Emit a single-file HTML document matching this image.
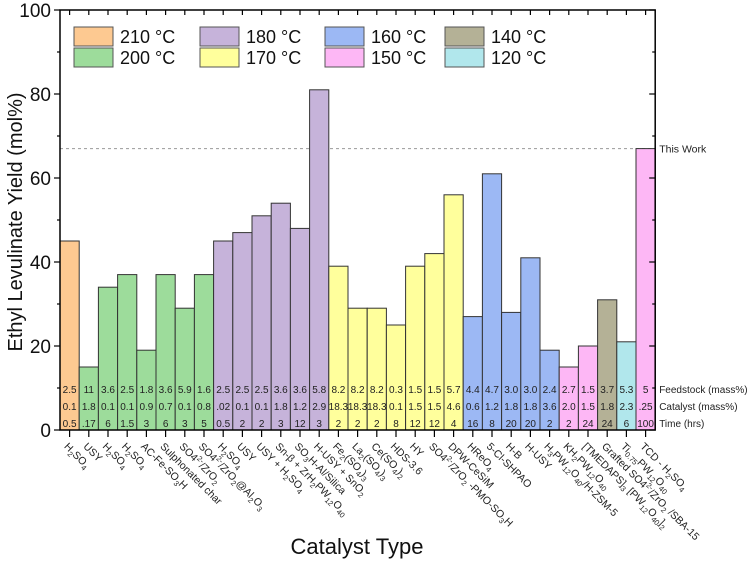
<!DOCTYPE html>
<html><head><meta charset="utf-8"><style>
body{margin:0;background:#fff;font-family:"Liberation Sans",Arial,sans-serif}
svg text{font-family:"Liberation Sans",Arial,sans-serif}
</style></head><body>
<svg id="chart" width="750" height="560" viewBox="0 0 750 560" xmlns="http://www.w3.org/2000/svg"></svg>
<script>
const categories=["H2SO4","USY","H2SO4","H2SO4","AC-Fe-SO3H","Sulphonated char","SO4^2-/ZrO2","SO4^2-/ZrO2@Al2O3","H2SO4","USY","USY + H2SO4","Sn-β + ZrH2PW12O40","SO3H-Al/Silica","H-USY + SnO2","Fe2(SO4)3","La2(SO4)3","Ce(SO4)2","HDS-3.6","HY","SO4^2-/ZrO2 -PMO-SO3H","DPW-CeSiM","HReO4","5-Cl-SHPAO","H-B","H-USY","H3PW12O40/H-ZSM-5","KH2PW12O40","[TMEDAPS]3 [PW12O40]2","Grafted SO4^2-/ZrO2 /SBA-15","Ti0.75PW12O40","TCD - H2SO4"];
const yields=[45,15,34,37,19,37,29,37,45,47,51,54,48,81,39,29,29,25,39,42,56,27,61,28,41,19,15,20,31,21,67];
const temps=[210,200,200,200,200,200,200,200,180,180,180,180,180,180,170,170,170,170,170,170,170,160,160,160,160,160,150,150,140,120,150];
const feedstock=["2.5","11","3.6","2.5","1.8","3.6","5.9","1.6","2.5","2.5","2.5","3.6","3.6","5.8","8.2","8.2","8.2","0.3","1.5","1.5","5.7","4.4","4.7","3.0","3.0","2.4","2.7","1.5","3.7","5.3","5"];
const catalyst=["0.1","1.8","0.1","0.1","0.9","0.7","0.1","0.8",".02","0.1","0.1","1.8","1.2","2.9","18.3","18.3","18.3","0.1","1.5","1.5","4.6","0.6","1.2","1.8","1.8","3.6","2.0","1.5","1.8","2.3",".25"];
const times=["0.5",".17","6","1.5","3","6","3","5","0.5","2","2","3","12","3","2","2","2","8","12","12","4","16","8","20","20","2","2","24","24","6","100"];
const legendTemps=[210,180,160,140,200,170,150,120];
const yTicks=[0,20,40,60,80,100];
const thisWork=67;
const colors={210:"#fdc991",200:"#9ddc9b",180:"#c6b3da",170:"#ffff9c",160:"#9cb8f4",150:"#fdb7f5",140:"#b4b196",120:"#b1e7ec"};

const NS="http://www.w3.org/2000/svg";
const svg=document.getElementById('chart');
const X0=60,BW=19.2,YT=10,YB=430;
const x=i=>X0+i*BW;
const y=v=>YB-(v/100)*(YB-YT);
const X1=x(categories.length);
function el(tag,attrs,parent){const e=document.createElementNS(NS,tag);for(const k in attrs)e.setAttribute(k,attrs[k]);(parent||svg).appendChild(e);return e;}

function formula(t,label){
  const re=/(\^[0-9]+[+-])|((?<=[A-Za-z\)\]])[0-9.]+(?=[A-Z\(\)\[\]\/ @]|$))/g;
  let last=0,m;
  const add=(s,kind)=>{if(!s)return;const ts=el('tspan',{},label);
    if(kind==='sub'){ts.setAttribute('font-size','7.5');ts.setAttribute('dy','3');}
    else if(kind==='sup'){ts.setAttribute('font-size','7.5');ts.setAttribute('dy','-4');}
    ts.textContent=s;
    if(kind){const back=el('tspan',{dy:kind==='sub'?'-3':'4'},label);back.textContent='\u200b';}
  };
  while((m=re.exec(t))){
    add(t.slice(last,m.index),null);
    if(m[1])add(m[1].slice(1),'sup');else add(m[2],'sub');
    last=m.index+m[0].length;
  }
  add(t.slice(last),null);
}

const dl=el('line',{x1:X0,x2:X1,y1:y(thisWork),y2:y(thisWork),stroke:'#999','stroke-dasharray':'3,3','stroke-width':1});


const tw=el('text',{x:X1+4,y:y(thisWork)+4,'font-size':10.5,fill:'#222'});tw.textContent='This Work';



yields.forEach((v,i)=>{
  const r=el('rect',{x:x(i),y:y(v),width:BW,height:YB-y(v),fill:colors[temps[i]],stroke:'#333','stroke-width':1});
  
  
});
[[feedstock,389,'Feedstock (mass%)'],[catalyst,406,'Catalyst (mass%)'],[times,423,'Time (hrs)']].forEach(([arr,yy,lab])=>{
  arr.forEach((t,i)=>{
    const tx=el('text',{x:x(i)+BW/2,y:yy+4,'font-size':10,'text-anchor':'middle',fill:'#222'});tx.textContent=t;
    
    
  });
  const lt=el('text',{x:X1+4,y:yy+4,'font-size':10,fill:'#222'});lt.textContent=lab;
  
  
});

const fr=el('rect',{x:X0,y:YT,width:X1-X0,height:YB-YT,fill:'none',stroke:'#000','stroke-width':1.5});


for(let v=0;v<=100;v+=10){
  const major=v%20===0;
  el('line',{x1:X0-(major?6:3),x2:X0,y1:y(v),y2:y(v),stroke:'#000','stroke-width':1.2});
  el('line',{x1:X1,x2:X1-(major?6:3),y1:y(v),y2:y(v),stroke:'#000','stroke-width':1.2});
}
yTicks.forEach(v=>{
  const t=el('text',{x:X0-9,y:y(v)+7,'font-size':19,'text-anchor':'end',fill:'#111'});t.textContent=v;
  
  
});
categories.forEach((c,i)=>{
  const cx=x(i)+BW/2;
  el('line',{x1:cx,x2:cx,y1:YB,y2:YB+7,stroke:'#000','stroke-width':1.2});
  el('line',{x1:cx,x2:cx,y1:YT,y2:YT+5,stroke:'#000','stroke-width':1.2});
  const t=el('text',{x:0,y:0,'font-size':10.5,fill:'#222',transform:`translate(${cx-6},${YB+17}) rotate(45)`});
  formula(c,t);
  
  
});
legendTemps.forEach((tp,k)=>{
  const col=k%4,row=Math.floor(k/4);
  const lx=[74,200,325,445][col],ly=27+row*21;
  const g=el('g',{});
  
  
  el('rect',{x:lx,y:ly,width:39,height:19,fill:colors[tp],stroke:'#555','stroke-width':1},g);
  const t=el('text',{x:lx+46,y:ly+16,'font-size':18,fill:'#111'},g);t.textContent=tp+' °C';
});
const yt=el('text',{x:0,y:0,'font-size':20,'text-anchor':'middle',fill:'#111',transform:'translate(22,222) rotate(-90)'});
yt.textContent='Ethyl Levulinate Yield (mol%)';


const xt=el('text',{x:357,y:554,'font-size':22,'text-anchor':'middle',fill:'#111'});
xt.textContent='Catalyst Type';


</script>
</body></html>
